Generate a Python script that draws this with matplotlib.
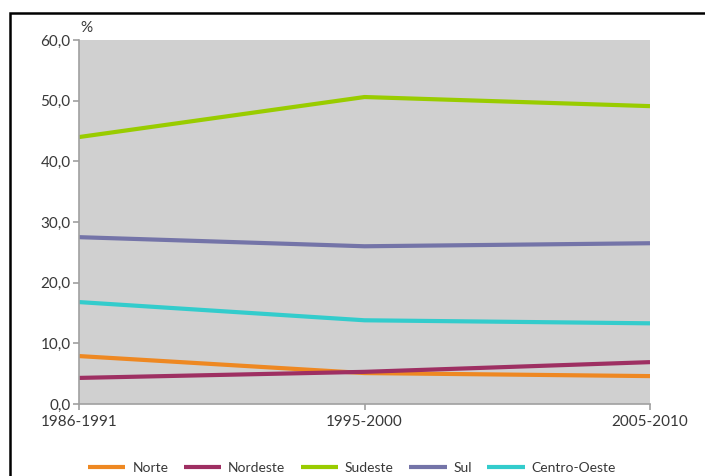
import matplotlib.pyplot as plt
from matplotlib.patches import Rectangle

# dados (% por região)
periodos = ['1986-1991', '1995-2000', '2005-2010']
regioes = ['Norte', 'Nordeste', 'Sudeste', 'Sul', 'Centro-Oeste']
norte = [7.9, 5.1, 4.6]
nordeste = [4.3, 5.3, 6.9]
sudeste = [44.0, 50.6, 49.1]
sul = [27.5, 26.0, 26.5]
centro_oeste = [16.8, 13.8, 13.3]
cores = ['#EE8822', '#9E2F62', '#99CC00', '#7474A8', '#33CCCC']

plt.rcParams['font.family'] = ['Lato', 'DejaVu Sans']

fig = plt.figure(figsize=(7.05, 4.76), dpi=100)
ax = fig.add_axes([79 / 705, 1 - 404 / 476, (650 - 79) / 705, (404 - 40) / 476])

x = list(range(len(periodos)))
series = [norte, nordeste, sudeste, sul, centro_oeste]
for nome, valores, cor in zip(regioes, series, cores):
    ax.plot(x, valores, color=cor, linewidth=3.0, label=nome, solid_capstyle='butt')

ax.set_facecolor('#D0D0D0')
ax.set_xlim(0, 2)
ax.set_ylim(0, 60)
ax.set_yticks(range(0, 61, 10))
ax.set_yticklabels([f'{v:.1f}'.replace('.', ',') for v in range(0, 61, 10)])
ax.set_xticks(x)
ax.set_xticklabels(periodos)
for s in ['top', 'right']:
    ax.spines[s].set_visible(False)
for s in ['left', 'bottom']:
    ax.spines[s].set_color('#A0A0A0')
    ax.spines[s].set_linewidth(1.2)
ax.tick_params(axis='both', colors='#A0A0A0', labelcolor='#383838',
               labelsize=11, length=4, width=1.2)
ax.tick_params(axis='x', pad=4)
ax.tick_params(axis='y', pad=2)

fig.text(80 / 705, 1 - 28 / 476, '%', fontsize=11, color='#383838', va='center')

fig.legend(loc='center', bbox_to_anchor=(352 / 705, 1 - 468 / 476), ncol=5,
           frameon=False, fontsize=10, handlelength=2.7, columnspacing=1.1,
           handletextpad=0.5, labelcolor='#383838')

# moldura externa
fig.patches.append(Rectangle((10 / 705, -0.1), 1.2, 1 - 13 / 476 + 0.1,
                             transform=fig.transFigure, fill=False,
                             edgecolor='black', linewidth=1.8))

fig.savefig('out.png', dpi=100)
